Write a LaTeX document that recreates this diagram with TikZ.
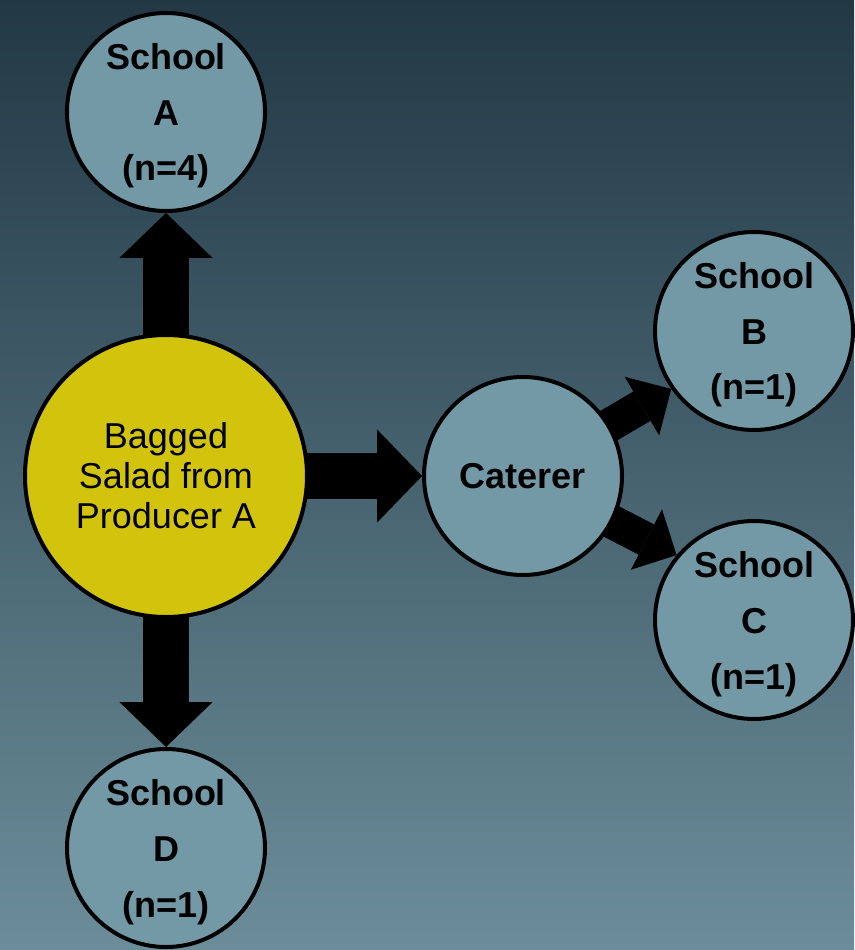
\documentclass[tikz,border=0pt]{standalone}
\usepackage{fontspec}
\setmainfont{Liberation Sans}
\usepackage{tikz}
\usetikzlibrary{arrows.meta,backgrounds}
\definecolor{bgTop}{RGB}{34,56,69}
\definecolor{bgBottom}{RGB}{107,141,153}
\definecolor{siteBlue}{RGB}{116,153,166}
\definecolor{saladYellow}{RGB}{210,196,12}

\begin{document}
\begin{tikzpicture}[
  site/.style={circle,fill=siteBlue,draw=black,line width=0.1cm,minimum size=4.95cm,
               inner sep=0pt,text depth=0pt,align=center,
               font=\fontsize{25.6}{39.8}\selectfont\bfseries},
  src/.style={circle,fill=saladYellow,draw=black,line width=0.1cm,minimum size=7.05cm,
              inner sep=0pt,align=center,font=\fontsize{25.6}{28.5}\selectfont},
  flow/.style={line width=1.16cm,
               -{Triangle[length=1.12cm,width=2.32cm,line width=0pt]}},
  thin flow/.style={line width=0.85cm,
               -{Triangle[length=0.85cm,width=1.7cm,line width=0pt]}}
]
  \useasboundingbox (0,0) rectangle (21.35,-23.75);

  \node[src](Salad) at (4.15,-11.9) {Bagged\\Salad from\\Producer A};
  \node[site](Caterer) at (13.075,-11.9) {Caterer};
  \node[site](SchoolA) at (4.15,-2.8)   {School\\A\\(n=4)};
  \node[site](SchoolB) at (18.85,-8.275) {School\\B\\(n=1)};
  \node[site](SchoolC) at (18.85,-15.5)  {School\\C\\(n=1)};
  \node[site](SchoolD) at (4.15,-21.2)  {School\\D\\(n=1)};

  \begin{scope}[on background layer]
    \shade[top color=bgTop,bottom color=bgBottom] (0,0) rectangle (21.35,-23.75);

    % ── from the producer ──
    \draw[flow](Salad.center)--(SchoolA.south);
    \draw[flow](Salad.center)--(SchoolD.north);
    \draw[flow](Salad.center)--(Caterer.west);

    % ── via the caterer ──
    \draw[thin flow](Caterer.center)--(SchoolB.215);
    \draw[thin flow](Caterer.center)--(SchoolC.140);
  \end{scope}
\end{tikzpicture}
\end{document}
